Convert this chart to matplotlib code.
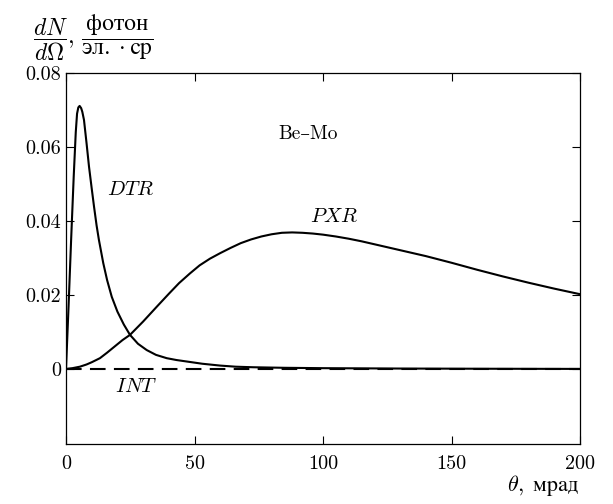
import matplotlib
matplotlib.use('Agg')
import matplotlib.pyplot as plt

plt.rcParams['mathtext.fontset'] = 'cm'
plt.rcParams['font.family'] = ['cmr10', 'DejaVu Serif']
plt.rcParams['axes.unicode_minus'] = False

# curves (theta in mrad, dN/dOmega)
dtr_x = [0, 1, 2, 3, 3.8, 4.3, 4.8, 5.3, 5.9, 6.35, 7.0, 8.0, 8.95, 10,
         10.9, 11.9, 12.8, 14.5, 16, 17.8, 20, 22.5, 24.9, 28, 31.4, 35,
         39.2, 43, 48, 53, 60, 66, 72.8, 85, 100, 130, 160, 200]
dtr_y = [0, 0.017, 0.035, 0.052, 0.064, 0.069, 0.0707, 0.0711, 0.0705,
         0.0695, 0.0673, 0.061, 0.0547, 0.0488, 0.0439, 0.0388, 0.0349,
         0.0286, 0.024, 0.0195, 0.0155, 0.012, 0.0092, 0.0068, 0.0051,
         0.0038, 0.0029, 0.0024, 0.0019, 0.0014, 0.0009, 0.0006, 0.00045,
         0.0003, 0.0002, 0.0001, 0.00005, 0.0]

pxr_x = [0, 2.5, 5.4, 8, 10, 13.2, 16, 19.7, 22, 24.9, 30, 35.3, 40, 44,
         48.2, 52, 56, 60, 64, 68, 72, 76, 80, 84, 88, 92, 96, 100, 105,
         110, 115, 120, 130, 140, 150, 160, 170, 180, 190, 200]
pxr_y = [0, 0.0002, 0.0006, 0.0012, 0.0018, 0.0029, 0.0044, 0.0065, 0.0078,
         0.0092, 0.0128, 0.0168, 0.0203, 0.0232, 0.0258, 0.028, 0.0298,
         0.0313, 0.0327, 0.034, 0.035, 0.0358, 0.0364, 0.0368, 0.0369,
         0.0368, 0.0366, 0.0363, 0.0358, 0.0352, 0.0345, 0.0337, 0.0321,
         0.0305, 0.0287, 0.0268, 0.025, 0.0233, 0.0217, 0.0202]

int_x = [0, 200]
int_y = [0, 0]

xticks = [0, 50, 100, 150, 200]
yticks = [0, 0.02, 0.04, 0.06, 0.08]
ytick_labels = ['0', '0.02', '0.04', '0.06', '0.08']

fig = plt.figure(figsize=(6.13, 5.04), dpi=100)
ax = fig.add_axes([66 / 613, 60 / 504, 514 / 613, 371 / 504])

ax.plot(dtr_x, dtr_y, color='black', lw=1.5)
ax.plot(pxr_x, pxr_y, color='black', lw=1.5)
ax.plot(int_x, int_y, color='black', lw=1.5, dashes=(7.5, 4))

ax.set_xlim(0, 200)
ax.set_ylim(-0.0203, 0.08)
ax.set_xticks(xticks)
ax.set_xticklabels([str(t) for t in xticks])
ax.set_yticks(yticks)
ax.set_yticklabels(ytick_labels)
ax.tick_params(direction='in', top=True, right=True, length=6, width=0.8,
               labelsize=14.5)
ax.tick_params(axis='x', pad=8)
for sp in ax.spines.values():
    sp.set_linewidth(0.9)

ax.text(15.8, 0.0485, r'$DTR$', fontsize=15, va='center')
ax.text(95, 0.0412, r'$PXR$', fontsize=15, va='center')
ax.text(82.5, 0.0635, 'Be–Mo', fontsize=14, va='center')
ax.text(19, -0.0048, r'$INT$', fontsize=15, va='center')

fig.text(33 / 613, 1 - 37 / 504,
         r'$\dfrac{dN}{d\Omega},\,\dfrac{\mathrm{фотон}}{\mathrm{эл.}\cdot\mathrm{ср}}$',
         fontsize=17, va='center', ha='left')
fig.text(579 / 613, 13 / 504, r'$\theta,\;\mathrm{мрад}$', fontsize=16,
         ha='right', va='baseline')

fig.savefig('out.png', dpi=100)
